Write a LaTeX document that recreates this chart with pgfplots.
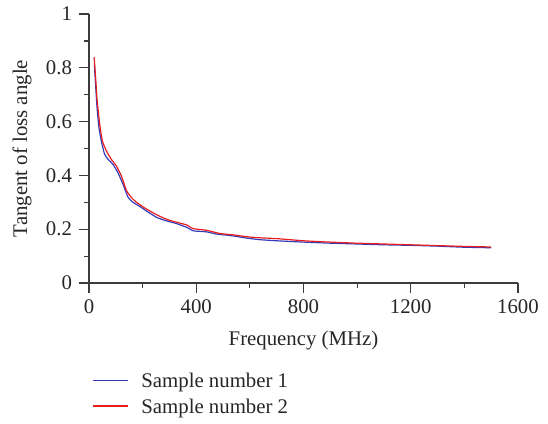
\documentclass[border=0pt]{standalone}
\usepackage{fontspec}
\setmainfont{Liberation Serif}
\usepackage{pgfplots}
\pgfplotsset{compat=1.18}
\definecolor{cblue}{RGB}{50,60,185}
\definecolor{cred}{RGB}{232,30,30}
\definecolor{caxis}{RGB}{60,60,60}
\newcommand{\legline}[1]{\textcolor{#1}{\rule[0.32em]{17.5pt}{0.6pt}}\hspace{6.5pt}}
\begin{document}
\begin{tikzpicture}
\useasboundingbox (-44.5pt,-70.5pt) rectangle (229.5pt,141.5pt);
\begin{axis}[
  scale only axis, width=214.5pt, height=134.5pt,
  xmin=0, xmax=1600, ymin=0, ymax=1,
  axis x line*=bottom, axis y line*=left,
  axis line style={-, caxis, line width=0.6pt},
  every tick/.style={caxis, line width=0.6pt},
  tick align=outside,
  major tick length=5pt, minor tick length=2.5pt,
  xtick={0,400,800,1200,1600}, ytick={0,0.2,0.4,0.6,0.8,1},
  minor x tick num=1, minor y tick num=1,
  /pgf/number format/assume math mode=true,
  /pgf/number format/1000 sep={},
  tick label style={font=\fontsize{10.4}{12.5}\selectfont, text=black!85},
  label style={font=\fontsize{10.4}{12.5}\selectfont, text=black!85},
  xlabel={Frequency (MHz)}, ylabel={Tangent of loss angle},
  xlabel style={at={(axis description cs:0.5,-0.212)}, anchor=center},
  ylabel style={at={(axis description cs:-0.156,0.5)}, anchor=center},
  legend style={at={(0,0)}, anchor=north west, yshift=-43pt, draw=none, fill=none,
    font=\fontsize{10.4}{12.5}\selectfont, text=black!85, inner sep=0pt, row sep=0pt,
    column sep=0pt},
  legend cell align=left,
  legend image code/.code={},
]
\addplot[color=cblue, line width=0.6pt, smooth, tension=0.3] coordinates {
(20,0.813) (25,0.73) (30,0.652) (37,0.578) (46,0.528) (58,0.479) (71,0.46)
(90,0.44) (108,0.41) (127,0.367) (146,0.318) (164,0.30) (189,0.285) (214,0.268)
(252,0.244) (289,0.231) (326,0.221) (364,0.207) (389,0.194) (414,0.192) (439,0.19)
(476,0.182) (513,0.178) (551,0.173) (588,0.167) (638,0.161) (700,0.157) (800,0.152)
(900,0.148) (1000,0.145) (1100,0.142) (1200,0.140) (1300,0.137) (1400,0.133) (1500,0.131)
};
\addlegendentry{\legline{cblue}Sample number 1}
\addplot[color=cred, line width=0.6pt, smooth, tension=0.3] coordinates {
(19,0.84) (25,0.76) (30,0.683) (40,0.59) (50,0.528) (65,0.491) (83,0.46)
(102,0.435) (121,0.398) (140,0.343) (158,0.318) (177,0.30) (214,0.275) (252,0.254)
(289,0.237) (326,0.226) (364,0.216) (389,0.202) (439,0.196) (488,0.184) (538,0.179)
(588,0.172) (638,0.168) (700,0.165) (800,0.157) (900,0.152) (1000,0.148) (1100,0.145)
(1200,0.142) (1300,0.139) (1400,0.136) (1500,0.134)
};
\addlegendentry{\legline{cred}Sample number 2}
\end{axis}
\end{tikzpicture}
\end{document}
